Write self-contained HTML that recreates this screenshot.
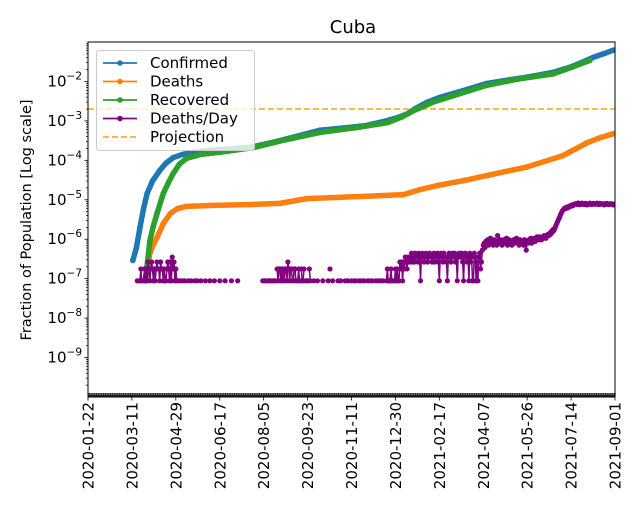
<!DOCTYPE html>
<html><head><meta charset="utf-8"><style>
body{margin:0;background:#fff}
svg text{font-family:"DejaVu Sans","Liberation Sans",sans-serif}
</style></head><body>
<svg id="c" width="640" height="520" viewBox="0 0 640 520"></svg>
<script>
const POP_DAY_UNIT = 11.33e6;
const xTickLabels = ["2020-01-22","2020-03-11","2020-04-29","2020-06-17","2020-08-05","2020-09-23","2020-11-11","2020-12-30","2021-02-17","2021-04-07","2021-05-26","2021-07-14","2021-09-01"];
const yTickExps = [-2,-3,-4,-5,-6,-7,-8,-9];
const confirmedDays = [50,54,58,62,66,72,80,87,95,105,117,135,160,184,210,235,259,285,310,334,345,356,366,378,392,407,425,445,470,495,519,538,552,564,576,586];
const confirmedVals = [2.9e-7,6e-7,2e-6,6e-6,1.45e-5,3e-5,5.5e-5,8.5e-5,1.17e-4,1.4e-4,1.6e-4,1.8e-4,1.95e-4,2.2e-4,3e-4,4.2e-4,5.8e-4,6.6e-4,7.6e-4,1.02e-3,1.2e-3,1.5e-3,2.1e-3,2.95e-3,3.9e-3,4.9e-3,6.5e-3,8.9e-3,1.1e-2,1.35e-2,1.7e-2,2.3e-2,3.1e-2,4.1e-2,5.1e-2,6.2e-2];
const recoveredDays = [64,69,73,77,84,90,95,102,110,125,147,184,220,259,300,334,350,363,385,407,445,480,519,540,560];
const recoveredVals = [8.9e-8,9e-7,2.2e-6,4.5e-6,1.45e-5,2.8e-5,4.6e-5,8e-5,1.12e-4,1.4e-4,1.6e-4,2.1e-4,3.3e-4,5.1e-4,6.8e-4,9e-4,1.25e-3,1.8e-3,3e-3,4.3e-3,8e-3,1.15e-2,1.55e-2,2.3e-2,3.4e-2];
const deathsDays = [64,69,73,77,84,92,100,110,140,184,214,244,300,352,370,390,420,445,490,530,545,557,572,586];
const deathsVals = [8.9e-8,4.3e-7,7.5e-7,1.1e-6,2.5e-6,4.5e-6,6e-6,6.8e-6,7.2e-6,7.6e-6,8.1e-6,1.07e-5,1.2e-5,1.35e-5,1.8e-5,2.3e-5,3.1e-5,4.1e-5,6.8e-5,1.32e-4,2e-4,2.8e-4,3.8e-4,4.7e-4];
const projectionVal = 2e-3;
const dailyStartDay = 55;
const dailyDeaths = [
1,0,1,1,2,1,0,1,2,1, 2,1,3,2,1,2,3,2,1,2, 1,2,3,2,2,1,3,2,2,1, 2,1,1,2,3,2,1,3,1,4, 2,3,1,2,1,1,0,1,0,0,
1,0,0,1,0,0,0,1,0,0, 1,0,0,0,1,0,0,1,0,0, 0,1,0,0,0,0,1,0,0,0, 0,1,0,0,0,0,1,0,0,0, 0,0,1,0,0,0,0,0,1,0,
0,0,0,0,0,1,0,0,0,0, 0,0,1,0,0,0,0,0,0,0, 0,0,0,0,0,0,0,0,0,0, 0,0,0,0,0,0,0,0,0,0, 1,0,1,1,0,0,1,1,0,1,
0,1,1,0,1,0,2,1,2,2, 1,2,1,2,1,2,2,1,3,2, 1,2,2,1,1,2,2,1,0,1, 2,1,0,2,1,1,2,0,1,1, 1,0,2,1,0,0,0,1,0,0,
0,1,0,0,0,0,0,1,0,0, 0,0,0,1,0,2,0,0,1,0, 0,0,0,0,1,0,0,1,0,0, 0,0,1,0,0,1,0,0,0,1, 0,0,1,0,1,0,0,0,1,0,
1,0,0,1,0,0,0,1,0,1, 0,0,1,0,0,0,1,0,0,1, 0,1,0,0,1,0,0,0,1,2, 1,1,1,2,1,1,0,1,2,1, 2,1,1,3,2,3,1,3,2,4,
3,2,4,3,3,4,5,3,4,3, 5,4,4,3,5,4,1,4,5,4, 3,4,5,4,3,4,5,4,4,3, 4,5,3,4,4,5,3,1,4,5, 4,3,5,4,4,3,1,4,5,4,
3,4,5,4,5,3,4,1,4,5, 4,4,5,3,1,4,5,4,3,4, 1,5,3,4,1,1,5,4,1,3, 1,4,5,2,3,6,8,9,7,10, 9,11,8,10,12,9,10,8,11,9,
10,8,14,9,10,11,9,8,10,11, 9,10,12,8,9,11,10,9,8,10, 11,9,10,12,10,9,8,11,10,9, 10,8,11,9,6,10,9,11,10,12, 9,10,11,12,10,11,13,12,11,13,
12,11,13,12,14,13,12,14,15,14, 16,15,18,17,20,19,22,25,28,32, 36,40,46,52,58,62,66,70,68,74, 70,76,74,80,78,84,80,86,88,90,
90,86,94,91,85,90,93,88,90,86, 92,90,84,87,90,93,88,86,90,92, 88,90,87,93,90,86,92,88,90,87, 90,84,90,87,92,88,86,90,87,90, 88,84,87,88];

const NS="http://www.w3.org/2000/svg";
const svg=document.getElementById('c');
const L=88,R=615,T=42,B=397, DAYS=588, YMAX=-1, YMIN=-10;
const xS=d=>L+(d/DAYS)*(R-L);
const yS=v=>T+(YMAX-Math.log10(v))/(YMAX-YMIN)*(B-T);
function mk(tag,attrs,parent){const e=document.createElementNS(NS,tag);for(const k in attrs)e.setAttribute(k,attrs[k]);(parent||svg).appendChild(e);return e;}

const clip=mk('clipPath',{id:'pc'});mk('rect',{x:L,y:T,width:R-L,height:B-T},clip);
const plot=mk('g',{'clip-path':'url(#pc)'});



const pj=mk('line',{x1:L,x2:R,y1:yS(projectionVal),y2:yS(projectionVal),stroke:'#ffa500','stroke-width':1.5,'stroke-dasharray':'6,3'},plot);



function series(days,vals,color,name){
  const g=mk('g',{},plot);
  
  
  mk('polyline',{points:days.map((d,i)=>xS(d)+','+yS(vals[i])).join(' '),fill:'none',stroke:color,'stroke-width':5.5,'stroke-linejoin':'round','stroke-linecap':'round'},g);
  days.forEach((d,i)=>{const c=mk('circle',{cx:xS(d),cy:yS(vals[i]),r:2.8,fill:color},g);
    
    });
}
series(confirmedDays,confirmedVals,'#1f77b4','confirmed-series');
series(deathsDays,deathsVals,'#ff7f0e','deaths-series');
series(recoveredDays,recoveredVals,'#2ca02c','recovered-series');

const dg=mk('g',{},plot);


for(let i=0;i<dailyDeaths.length;i++){
  const v=dailyDeaths[i]; if(!v) continue;
  const d=dailyStartDay+i, yv=v/POP_DAY_UNIT;
  if(i>0&&dailyDeaths[i-1]>0) mk('line',{x1:xS(d-1),y1:yS(dailyDeaths[i-1]/POP_DAY_UNIT),x2:xS(d),y2:yS(yv),stroke:'#800080','stroke-width':1.5},dg);
}
for(let i=0;i<dailyDeaths.length;i++){
  const v=dailyDeaths[i]; if(!v) continue;
  const c=mk('circle',{cx:xS(dailyStartDay+i),cy:yS(v/POP_DAY_UNIT),r:2.6,fill:'#800080'},dg);
  
  
}

const band=mk('g',{});


mk('rect',{x:L,y:B-4,width:R-L,height:4,fill:'#222'},band);
for(let d=0;d<=DAYS;d+=2) mk('rect',{x:xS(d),y:B-4,width:0.8,height:2,fill:'#888'},band);

const fr=mk('rect',{x:L,y:T,width:R-L,height:B-T,fill:'none',stroke:'#000','stroke-width':1});



const yax=mk('g',{});


for(let e=-10;e<-1;e++){for(let m=2;m<10;m++){const y=yS(m*Math.pow(10,e));if(y>T&&y<B)mk('line',{x1:L-2,x2:L,y1:y,y2:y,stroke:'#000','stroke-width':0.7},yax);}}
yTickExps.forEach(e=>{const y=yS(Math.pow(10,e));
  mk('line',{x1:L-3.5,x2:L,y1:y,y2:y,stroke:'#000','stroke-width':0.8},yax);
  const t=mk('text',{x:L-6,y:y+5,'text-anchor':'end','font-size':15},yax);
  
  
  t.textContent='10';
  const s=mk('tspan',{dy:-7,'font-size':10.5},t);s.textContent='\u2212'+(-e);
});
const yl=mk('text',{x:0,y:0,transform:'translate(31,220) rotate(-90)','text-anchor':'middle','font-size':14.5});


yl.textContent='Fraction of Population [Log scale]';

const xax=mk('g',{});


xTickLabels.forEach((lab,i)=>{const x=xS(i*49);
  mk('line',{x1:x,x2:x,y1:B,y2:B+3.5,stroke:'#000','stroke-width':0.8},xax);
  const t=mk('text',{x:0,y:0,transform:`translate(${x+5.5},${B+5}) rotate(-90)`,'text-anchor':'end','font-size':15},xax);
  
  
  t.textContent=lab;});

const ti=mk('text',{x:353,y:33,'text-anchor':'middle','font-size':18});


ti.textContent='Cuba';

const lg=mk('g',{});


mk('rect',{x:96.5,y:50.5,width:158,height:100,rx:3,fill:'#fff','fill-opacity':0.8,stroke:'#ccc'},lg);
const entries=[['Confirmed','#1f77b4',0],['Deaths','#ff7f0e',0],['Recovered','#2ca02c',0],['Deaths/Day','#800080',0],['Projection','#ffa500',1]];
entries.forEach((en,i)=>{const y=63+i*18.5;
  const g=mk('g',{},lg);
  
  
  if(en[2]) mk('line',{x1:103,x2:137,y1:y,y2:y,stroke:en[1],'stroke-width':1.5,'stroke-dasharray':'6,3'},g);
  else {mk('line',{x1:103,x2:137,y1:y,y2:y,stroke:en[1],'stroke-width':1.8},g);mk('circle',{cx:120,cy:y,r:2.8,fill:en[1]},g);}
  const t=mk('text',{x:150,y:y+5,'font-size':15},g);t.textContent=en[0];});
</script>
</body></html>
